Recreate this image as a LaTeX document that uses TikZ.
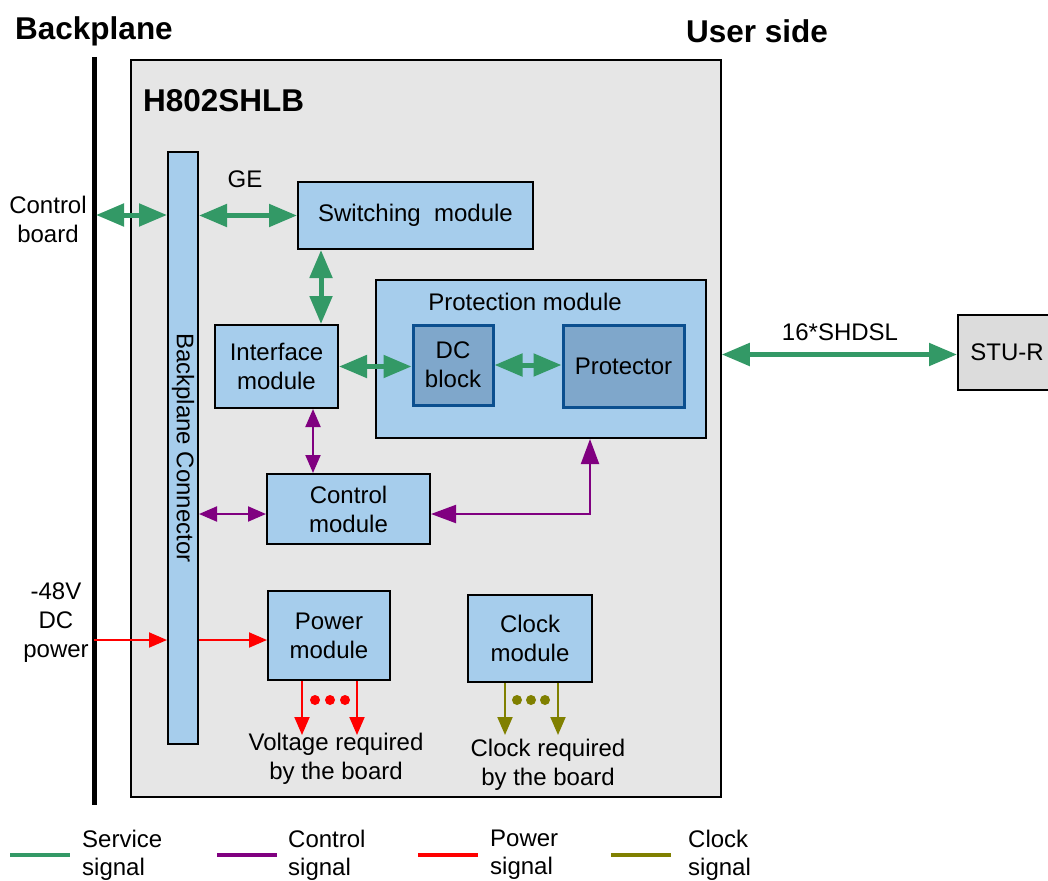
\documentclass[tikz,border=0pt]{standalone}
\usepackage{fontspec}
\setmainfont{Liberation Sans}
\usetikzlibrary{arrows.meta}

\definecolor{srvgreen}{HTML}{339966}
\definecolor{ctlpurple}{HTML}{800080}
\definecolor{pwrred}{HTML}{FF0000}
\definecolor{clkolive}{HTML}{808000}
\definecolor{boardgray}{HTML}{E6E6E6}
\definecolor{modblue}{HTML}{A6CDEC}
\definecolor{dcblue}{HTML}{7FA7CB}
\definecolor{dcedge}{HTML}{0B4F8F}
\definecolor{stugray}{HTML}{DCDCDC}

\newcommand{\txtfont}{\fontsize{24}{29}\selectfont}
\newcommand{\legfont}{\fontsize{24}{28}\selectfont}
\newcommand{\ttlfont}{\fontsize{31.5}{36}\selectfont\bfseries}

\tikzset{
    module/.style={draw=black, line width=2pt, fill=modblue, align=center,
        inner sep=0pt, font=\txtfont},
    dcmod/.style={module, draw=dcedge, line width=3pt, fill=dcblue},
    label/.style={align=center, inner sep=0pt, font=\txtfont},
    srvlink/.style={draw=srvgreen, line width=5pt,
        arrows={Triangle[length=28pt,width=22pt]-Triangle[length=28pt,width=22pt]}},
    ctllink/.style={draw=ctlpurple, line width=2pt,
        arrows={Triangle[length=18pt,width=15pt]-Triangle[length=18pt,width=15pt]}},
    ctlbig/.style={draw=ctlpurple, line width=2pt,
        arrows={Triangle[length=25pt,width=18pt]-Triangle[length=25pt,width=18pt]}},
    pwrlink/.style={draw=pwrred, line width=2pt, arrows={-Triangle[length=18pt,width=15pt]}},
    clklink/.style={draw=clkolive, line width=2pt, arrows={-Triangle[length=18pt,width=15pt]}},
}

\begin{document}
\begin{tikzpicture}[x=1pt, y=-1pt]
    \clip (0,0) rectangle (1048,880);

    % titles
    \node[anchor=west, inner sep=0pt, font=\ttlfont] (bptitle) at (15,31) {Backplane};
    \node[anchor=west, inner sep=0pt, font=\ttlfont] (ustitle) at (686,31) {User side};

    % backplane
    \coordinate (bptop) at (94,57);
    \coordinate (bpbot) at (94,805);
    \draw[line width=5pt] (bptop) -- (bpbot);

    % board
    \node[draw=black, line width=1.5pt, fill=boardgray, minimum width=590pt,
        minimum height=737pt, inner sep=0pt] (board) at (426,428.5) {};
    \node[anchor=west, inner sep=0pt, font=\ttlfont] (bname) at (143,101) {H802SHLB};

    % modules
    \node[module, minimum width=30pt, minimum height=592pt] (bpc) at (183,448) {};
    \node[label, rotate=-90] (bpctxt) at (bpc.center) {Backplane Connector};
    \node[module, minimum width=235pt, minimum height=67pt] (sw) at (415.5,215.5) {Switching~ module};
    \node[module, minimum width=330pt, minimum height=158pt] (prot) at (541,359) {};
    \node[label] (prottxt) at (525,302) {Protection module};
    \node[module, minimum width=123pt, minimum height=83pt] (intf) at (276.5,366.5) {Interface\\module};
    \node[dcmod, minimum width=80pt, minimum height=80pt] (dc) at (453,365) {DC\\block};
    \node[dcmod, minimum width=121pt, minimum height=82pt] (ptr) at (623.5,366) {Protector};
    \node[module, minimum width=163pt, minimum height=70pt] (ctl) at (348.5,509) {Control\\module};
    \node[module, minimum width=122pt, minimum height=89pt] (pwr) at (329,635.5) {Power\\module};
    \node[module, minimum width=124pt, minimum height=87pt] (clk) at (530,638.5) {Clock\\module};
    \node[module, fill=stugray, minimum width=98pt, minimum height=75pt] (stu) at (1007,352.5) {STU-R};

    % outside texts
    \node[label] (cbtxt) at (48,219) {Control\\board};
    \node[label] (dctxt) at (56,623) {-48V\\DC\\power};
    \node[label] (getxt) at (245,179) {GE};
    \node[label] (shtxt) at (840,332) {16*SHDSL};
    \node[label] (vtxt) at (336,759) {Voltage required\\by the board};
    \node[label] (ctxt) at (548,765) {Clock required\\by the board};

    % service signals
    \coordinate (cbin) at (96,215);
    \coordinate (swio) at (321,0);
    \draw[srvlink] (cbin) -- (cbin -| bpc.west);
    \draw[srvlink] (bpc.east |- sw.west) -- (sw.west);
    \draw[srvlink] (sw.south -| swio) -- (intf.north -| swio);
    \draw[srvlink] (intf.east) -- (intf.east -| dc.west);
    \draw[srvlink] (dc.east) -- (dc.east -| ptr.west);
    \draw[srvlink] ([yshift=-2pt]board.east |- stu.west) -- ([yshift=-2pt]stu.west);

    % control signals
    \coordinate (ctlio) at (313,0);
    \coordinate (protio) at (590,0);
    \draw[ctllink] (intf.south -| ctlio) -- (ctl.north -| ctlio);
    \draw[ctllink] ([yshift=-5pt]bpc.east |- ctl.west) -- ([yshift=-5pt]ctl.west);
    \draw[ctlbig] ([yshift=-5pt]ctl.east) -| (prot.south -| protio);

    % power signals
    \coordinate (pwrin) at (94,640);
    \coordinate (v1) at (302,735);
    \coordinate (v2) at (357,735);
    \draw[pwrlink] (pwrin) -- (pwrin -| bpc.west);
    \draw[pwrlink] ([yshift=-4.5pt]bpc.east |- pwr.west) -- ([yshift=-4.5pt]pwr.west);
    \draw[pwrlink] (pwr.south -| v1) -- (v1);
    \draw[pwrlink] (pwr.south -| v2) -- (v2);
    \foreach \x in {315,330,345}
        \fill[pwrred] (\x,700) circle (5pt);

    % clock signals
    \coordinate (c1) at (505,735);
    \coordinate (c2) at (558,735);
    \draw[clklink] (clk.south -| c1) -- (c1);
    \draw[clklink] (clk.south -| c2) -- (c2);
    \foreach \x in {517,531,545}
        \fill[clkolive] (\x,700) circle (5pt);

    % legend
    \foreach \name/\col/\xa/\xt/\txt in {srv/srvgreen/10/82/Service, ctl/ctlpurple/217/288/Control,
        pwr/pwrred/418/490/Power, clk/clkolive/611/688/Clock} {
        \coordinate (\name a) at (\xa,855);
        \coordinate (\name b) at (\xa+60,855);
        \draw[\col, line width=4pt] (\name a) -- (\name b);
        \node[label, font=\legfont, anchor=west, align=left] (\name leg) at (\xt,855) {\txt\\signal};
    }
\end{tikzpicture}
\end{document}
